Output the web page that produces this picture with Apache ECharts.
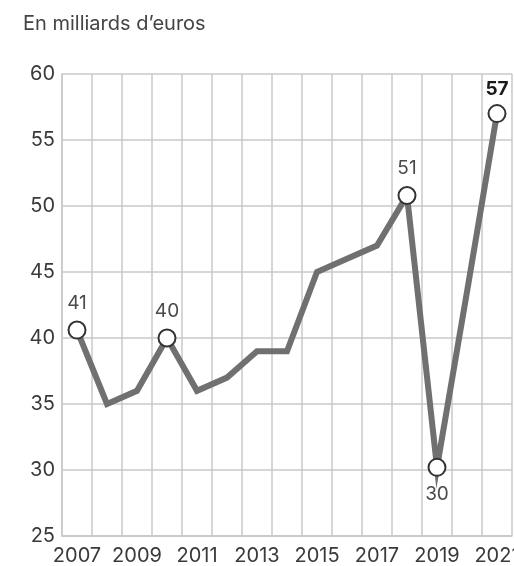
<!DOCTYPE html>
<html>
<head>
<meta charset="utf-8">
<script src="https://cdn.jsdelivr.net/npm/echarts@6/dist/echarts.min.js"></script>
<style>
  html, body { margin: 0; padding: 0; background: #fff; overflow: hidden; }
  #chart { width: 514px; height: 566px; }
</style>
</head>
<body>
<div id="chart"></div>
<script>
// Years on the x axis
const years = ['2007','2008','2009','2010','2011','2012','2013','2014','2015','2016','2017','2018','2019','2020','2021'];
// Amounts in billions of euros
const amounts = [40.6, 35, 36, 40, 36, 37, 39, 39, 45, 46, 47, 50.8, 30.2, 43.5, 57];
// Years that carry a circle marker and a value label, and where the label sits
const labelledYears = ['2007', '2010', '2018', '2019', '2021'];
const belowYears = ['2019'];
const boldYears = ['2021'];
// Y axis range
const yTicks = [25, 30, 35, 40, 45, 50, 55, 60];

const FONT = 'Inter, Roboto, "Noto Sans", sans-serif';

const seriesData = amounts.map((v, i) => {
  const y = years[i];
  const item = { value: v };
  if (labelledYears.includes(y)) {
    const bold = boldYears.includes(y);
    item.symbol = 'circle';
    item.symbolSize = 17;
    item.itemStyle = { color: '#ffffff', borderColor: '#333333', borderWidth: 2 };
    item.label = {
      show: true,
      position: belowYears.includes(y) ? 'bottom' : 'top',
      distance: bold ? 5 : 8,
      formatter: p => String(Math.round(p.value)),
      fontFamily: FONT,
      fontSize: 19,
      fontWeight: bold ? 'bold' : 'normal',
      color: bold ? '#1a1a1a' : '#4a4a4a'
    };
  } else {
    item.symbol = 'none';
  }
  return item;
});

const el = document.getElementById('chart');
const chart = echarts.init(el, null, { renderer: 'canvas', width: 514, height: 566 });
chart.setOption({
  animation: false,
  backgroundColor: '#ffffff',
  title: {
    text: 'En milliards d\u2019euros',
    left: 18,
    top: 9,
    textStyle: { fontFamily: FONT, fontSize: 20, fontWeight: 'normal', color: '#444444' }
  },
  grid: {
    left: 62, right: 2, top: 74, bottom: 30,
    containLabel: false,
    outerBoundsMode: 'none'
  },
  xAxis: {
    type: 'category',
    data: years,
    boundaryGap: true,
    axisLine: { show: true, lineStyle: { color: '#c8c8c8', width: 1.5 } },
    axisTick: { show: false },
    axisLabel: {
      interval: 1,
      margin: 10,
      hideOverlap: false,
      fontFamily: FONT,
      fontSize: 20,
      color: '#3a3a3a'
    },
    splitLine: { show: true, interval: 0, lineStyle: { color: '#c8c8c8', width: 1.5 } }
  },
  yAxis: {
    type: 'value',
    min: yTicks[0],
    max: yTicks[yTicks.length - 1],
    interval: 5,
    axisLine: { show: true, lineStyle: { color: '#c8c8c8', width: 1.5 } },
    axisTick: { show: false },
    axisLabel: {
      margin: 7,
      fontFamily: FONT,
      fontSize: 20,
      color: '#3a3a3a'
    },
    splitLine: { show: true, lineStyle: { color: '#c8c8c8', width: 1.5 } }
  },
  series: [{
    type: 'line',
    data: seriesData,
    showSymbol: true,
    lineStyle: { color: '#707070', width: 6, join: 'miter' },
    itemStyle: { color: '#707070' },
    z: 3
  }]
});
</script>
</body>
</html>
